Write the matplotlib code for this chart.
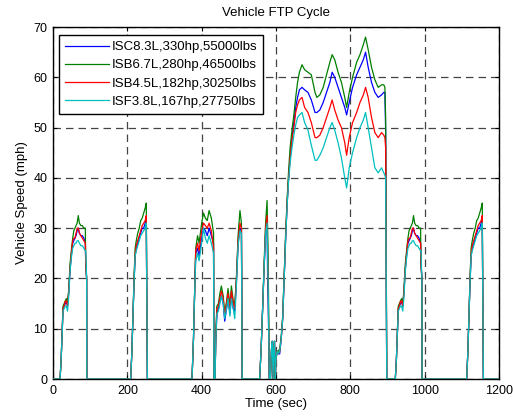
import matplotlib
matplotlib.use("Agg")
import matplotlib.pyplot as plt

plt.rcParams['font.family'] = ['Liberation Sans', 'DejaVu Sans']

# ---------------- data ----------------
time_s = [
    # cold start hill 1
    0, 19, 22, 25, 27, 30, 33, 36, 39, 42, 46, 50, 53, 56, 59, 62, 65, 68, 71, 75, 79, 83, 87, 88, 90.5, 91,
    # hill 2
    209, 212, 215, 218, 221, 224, 228, 232, 236, 240, 244, 248, 251, 252, 254,
    # hill 3
    374, 378, 381, 384, 389, 393, 400, 405, 410, 415, 420, 426, 432, 433, 436,
    # hill 4
    438, 441, 445, 449, 453, 458, 462, 467, 471, 476, 480, 485, 489, 494, 498, 503, 507, 509,
    # hill 5 and ramp
    556, 560, 564, 568, 572, 576, 577.5, 579, 582, 585, 588, 590, 592, 594, 596, 598, 600, 603, 606, 610,
    614, 618, 622, 626, 630, 634, 638, 643, 648, 653, 658, 663,
    # highway hill
    670, 677, 686, 695, 705, 710, 718, 727, 736, 745, 751, 758, 767, 776, 785, 790, 797, 806, 817, 826,
    835, 841, 848, 857, 866, 875, 884, 890, 893, 895, 898,
    # hot start hill 1
    921, 924, 927, 929, 932, 935, 938, 941, 944, 948, 952, 955, 958, 961, 964, 967, 970, 973, 977, 981,
    985, 989, 990, 992.5, 993,
    # hot start hill 2
    1113, 1116, 1119, 1122, 1125, 1128, 1132, 1136, 1140, 1144, 1148, 1152, 1155, 1156, 1158,
    1200,
]

isc83 = [
    0, 0, 4, 10, 14, 14.5, 15, 15.5, 14.5, 17, 22, 25, 27, 27.5, 28, 28.5, 29.5, 30, 29, 28.5, 28.5, 28, 27, 23, 20, 0,
    0, 5, 12, 19, 24.5, 26, 27, 28, 29, 30, 30, 31, 32, 20, 0,
    0, 8, 17, 25, 26, 24.5, 28, 30, 29.5, 28.5, 30, 28.5, 27, 0, 0,
    8, 13, 14, 15.5, 16.5, 15, 11.5, 14, 16, 13, 16.5, 14, 13.5, 20, 27, 30, 29.5, 0,
    0, 6, 14, 22, 29, 32, 19, 15, 0, 0, 6, 7.5, 0, 6, 7.5, 0, 4, 5.5, 5, 5,
    8, 12, 20, 28, 35, 40, 44, 48, 51, 54, 56, 57.5,
    58, 57.5, 57, 55.5, 53, 53, 53.5, 55, 57, 59, 61, 60, 58, 56, 54, 52.5, 55, 58, 60.5, 62,
    63.5, 65, 62, 59, 57, 56, 56.5, 57, 57, 49.5, 0,
    0, 4, 10, 14, 14.5, 15, 15.5, 14.5, 17, 22, 25, 27, 27.5, 28, 28.5, 29.5, 30, 29, 28.5, 28.5,
    28, 27, 23, 20, 0,
    0, 5, 12, 19, 24.5, 26, 27, 28, 29, 30, 30, 31, 32, 20, 0,
    0,
]

isb67 = [
    0, 0, 4, 10, 14.5, 15, 15.5, 16, 15, 17.5, 23, 26, 28, 29.5, 30, 30.5, 31, 32.5, 31, 30.5, 30.5, 30, 30, 23, 20, 0,
    0, 5, 12, 20, 26, 27.5, 29, 30, 31.5, 32, 33, 34, 35, 20, 0,
    0, 8, 17, 26, 28.5, 27, 31, 33, 32, 31.5, 33.5, 32, 29, 0, 0,
    9, 14.5, 15, 17, 18.5, 16.5, 13, 15.5, 18, 14.5, 18.5, 15.5, 14.5, 21, 28.5, 33.5, 31, 0,
    0, 6, 14, 23, 31, 35.5, 30, 24, 0, 0, 6, 7.5, 0, 6, 7.5, 0, 4, 5.5, 5.5, 6,
    8.5, 12.5, 21, 29, 36, 41.5, 46, 49.5, 52.5, 56, 59, 61,
    62.5, 61.5, 61, 60.5, 57, 56, 56.5, 58, 60.5, 63, 64.5, 63.5, 61, 59, 56, 54, 57, 60, 63, 64.5,
    66.5, 68, 65.5, 62, 59.5, 58, 58.5, 58.5, 58, 52, 0,
    0, 4, 10, 14.5, 15, 15.5, 16, 15, 17.5, 23, 26, 28, 29.5, 30, 30.5, 31, 32.5, 31, 30.5, 30.5,
    30, 30, 23, 20, 0,
    0, 5, 12, 20, 26, 27.5, 29, 30, 31.5, 32, 33, 34, 35, 20, 0,
    0,
]

isb45 = [
    0, 0, 4, 10, 14, 14.5, 15.5, 15.5, 14.5, 17, 22, 25.5, 27.5, 28, 28, 29, 30, 30, 29, 28.5, 28, 27.5, 27, 23, 20, 0,
    0, 5, 12, 19.5, 25, 26.5, 27.5, 28.5, 29.5, 30.5, 31, 31.5, 32.5, 20, 0,
    0, 8, 17, 25.5, 27, 25.5, 29.5, 31, 30.5, 30, 31, 29.5, 26, 0, 0,
    8.5, 14, 14.5, 16, 17.5, 16, 12.5, 15, 17, 14, 17.5, 15, 14, 20.5, 27.5, 31, 30, 0,
    0, 6, 14, 22.5, 30, 32.5, 25, 18, 0, 0, 6, 7.5, 0, 6, 7.5, 0, 4, 5.5, 5, 5.5,
    8, 12, 20.5, 28.5, 35, 40, 44, 47.5, 50, 53, 54.5, 55.5,
    56, 54, 53, 51, 48, 48, 48.5, 50, 52, 54, 55.5, 53.5, 51.5, 50, 47, 44.5, 48, 51, 53, 55,
    56.5, 58, 56, 52, 49, 48, 49, 48.5, 48, 46, 0,
    0, 4, 10, 14, 14.5, 15.5, 15.5, 14.5, 17, 22, 25.5, 27.5, 28, 28, 29, 30, 30, 29, 28.5, 28,
    27.5, 27, 23, 20, 0,
    0, 5, 12, 19.5, 25, 26.5, 27.5, 28.5, 29.5, 30.5, 31, 31.5, 32.5, 20, 0,
    0,
]

isf38 = [
    0, 0, 4, 10, 13.5, 14, 14.5, 14.5, 13.5, 16, 21.5, 24.5, 26, 26.5, 27, 27, 27.5, 27.5, 27, 26.5, 26.5, 26, 25.5, 25.5, 20, 0,
    0, 5, 12, 19, 24.5, 25.5, 26.5, 27.5, 28.5, 29, 29.5, 30, 31, 20, 0,
    0, 8, 17, 23.5, 25, 23.5, 27, 30, 28, 27, 28.5, 27, 25, 0, 0,
    8, 13, 13.5, 15, 16.5, 15, 12, 14, 16, 12.5, 16, 14, 12, 19.5, 26.5, 29.5, 29, 0,
    0, 6, 14, 22, 29, 31, 25, 18, 0, 0, 6, 7.5, 0, 6, 7.5, 0, 4, 5.5, 5, 5.5,
    8, 12, 20, 28, 34.5, 39.5, 43, 46, 48.5, 50.5, 52, 52.5,
    53, 51, 49.5, 46.5, 43.5, 43.5, 44.5, 46, 48, 50, 51, 49.5, 47, 44, 40, 38, 42, 45, 48, 50,
    51.5, 53, 50, 46, 42, 41, 42, 41, 40.5, 40, 0,
    0, 4, 10, 13.5, 14, 14.5, 14.5, 13.5, 16, 21.5, 24.5, 26, 26.5, 27, 27, 27.5, 27.5, 27, 26.5, 26.5,
    26, 25.5, 25.5, 20, 0,
    0, 5, 12, 19, 24.5, 25.5, 26.5, 27.5, 28.5, 29, 29.5, 30, 31, 20, 0,
    0,
]

labels = ["ISC8.3L,330hp,55000lbs", "ISB6.7L,280hp,46500lbs",
          "ISB4.5L,182hp,30250lbs", "ISF3.8L,167hp,27750lbs"]
colors = ["#0000ff", "#007f00", "#ff0000", "#00bfbf"]

x_ticks = [0, 200, 400, 600, 800, 1000, 1200]
y_ticks = [0, 10, 20, 30, 40, 50, 60, 70]

# ---------------- figure ----------------
fig = plt.figure(figsize=(5.13, 4.17), dpi=100)
ax = fig.add_axes([53 / 513, 1 - 379 / 417, 446 / 513, 352 / 417])

for series, lab, col in zip([isc83, isb67, isb45, isf38], labels, colors):
    ax.plot(time_s, series, color=col, lw=0.9, label=lab, zorder=3)

ax.set_xlim(0, 1200)
ax.set_ylim(0, 70)
ax.set_xticks(x_ticks)
ax.set_yticks(y_ticks)
ax.tick_params(direction='in', length=3, width=0.8, top=True, right=True,
               labelsize=9, pad=4, colors='black')
ax.grid(True, color='#444444', linestyle=(0, (6, 4)), linewidth=0.9, zorder=1)
ax.set_axisbelow(True)
for s in ax.spines.values():
    s.set_linewidth(1.0)
    s.set_color('black')

ax.set_title("Vehicle FTP Cycle", fontsize=9.5, pad=8)
ax.set_xlabel("Time (sec)", fontsize=9.5, labelpad=1)
ax.set_ylabel("Vehicle Speed (mph)", fontsize=9.5, labelpad=4)

leg = ax.legend(loc='upper left', bbox_to_anchor=(0.0135, 0.977), borderaxespad=0,
                fancybox=False, frameon=True, edgecolor='black', framealpha=1,
                fontsize=9.5, handlelength=3.3, handletextpad=0.25,
                labelspacing=0.45, borderpad=0.45)
leg.get_frame().set_linewidth(1.0)
leg.set_zorder(5)

fig.savefig("out.png", dpi=100)
